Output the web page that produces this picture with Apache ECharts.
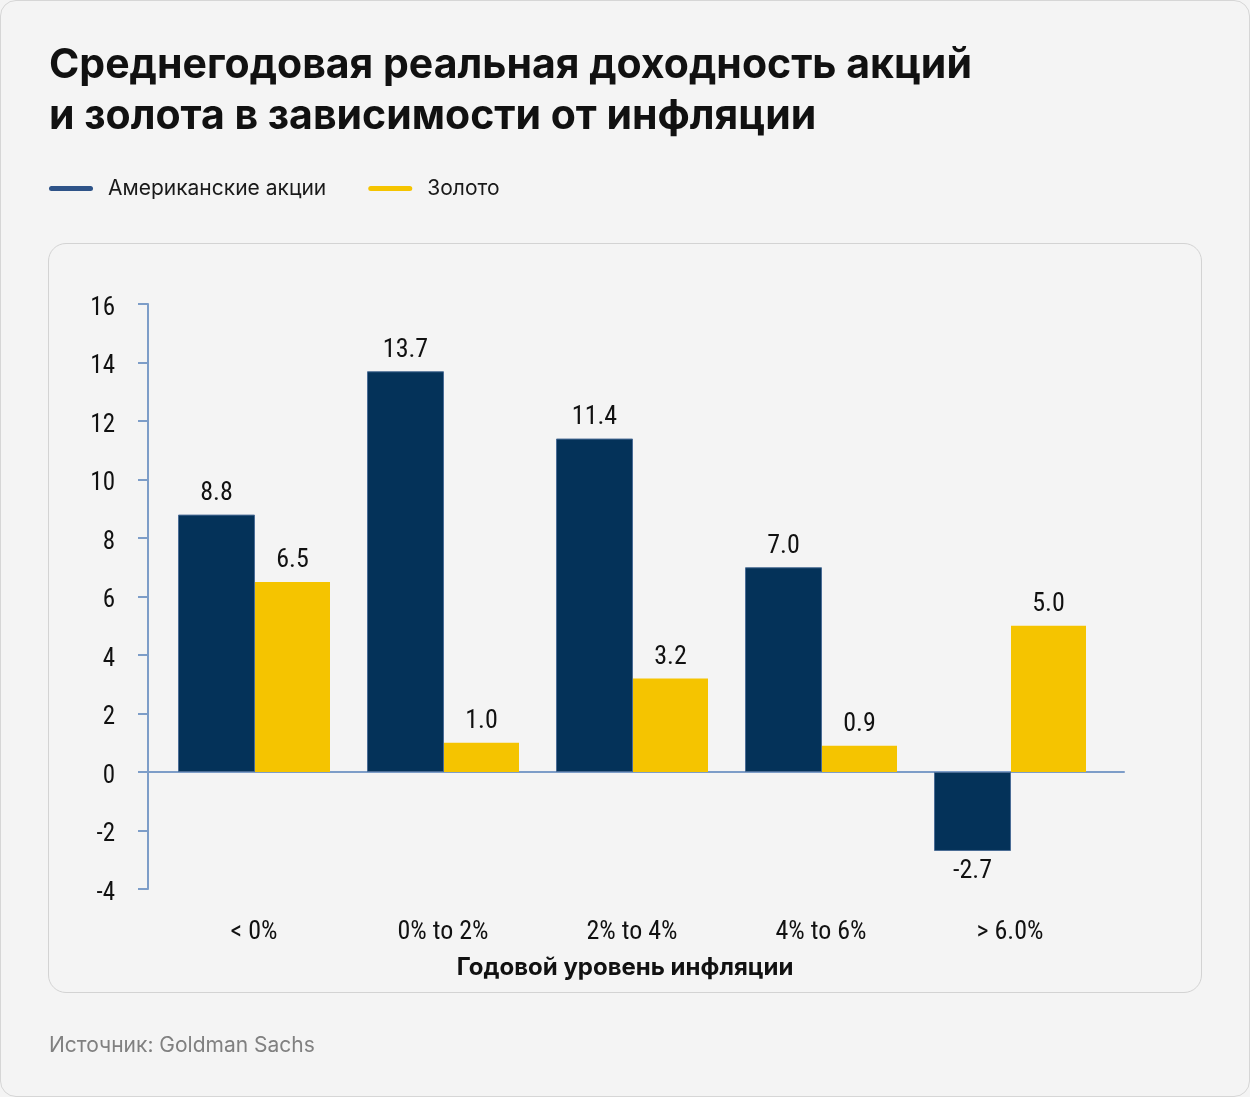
<!DOCTYPE html>
<html><head><meta charset="utf-8">
<script src="https://cdn.jsdelivr.net/npm/echarts@6/dist/echarts.min.js"></script>
<style>
html,body{margin:0;padding:0;background:#f4f4f4;}
#frame{position:absolute;left:0;top:0;width:1248px;height:1095px;border:1px solid #d6d6d6;border-radius:16px;background:#f4f4f4;}
#panel{position:absolute;left:48px;top:243px;width:1152px;height:748px;border:1px solid #d3d3d3;border-radius:18px;}
#chart{position:absolute;left:0;top:0;width:1250px;height:1097px;}
</style></head>
<body>
<div id="frame"></div>
<div id="panel"></div>
<div id="chart"></div>
<script>
var categories = ['< 0%', '0% to 2%', '2% to 4%', '4% to 6%', '> 6.0%'];
var stocks = [8.8, 13.7, 11.4, 7.0, -2.7];
var gold = [6.5, 1.0, 3.2, 0.9, 5.0];
var seriesNames = ['Американские акции', 'Золото'];
var yMin = -4, yMax = 16, yStep = 2;

var narrow = '"Liberation Sans Narrow","Arial Narrow","Roboto Condensed","DejaVu Sans Condensed",sans-serif';
var sans = 'Inter,Roboto,"Noto Sans",sans-serif';
var axisColor = '#7d9dc8';

var chart = echarts.init(document.getElementById('chart'), null, {renderer:'canvas'});
chart.setOption({
  backgroundColor: 'transparent',
  animation: false,
  graphic: [
    {type:'text', x:49, y:66, style:{text:'Среднегодовая реальная доходность акций', font:'bold 41px ' + sans, fill:'#111', textVerticalAlign:'middle'}},
    {type:'text', x:49, y:117, style:{text:'и золота в зависимости от инфляции', font:'bold 41px ' + sans, fill:'#111', textVerticalAlign:'middle'}},
    {type:'text', x:625, y:968, style:{text:'Годовой уровень инфляции', font:'bold 24px ' + sans, fill:'#111', textAlign:'center', textVerticalAlign:'middle'}},
    {type:'text', x:49, y:1046, style:{text:'Источник: Goldman Sachs', font:'21px ' + sans, fill:'#808080', textVerticalAlign:'middle'}}
  ],
  legend: {
    left: 49, top: 178, padding: 0,
    itemWidth: 44, itemHeight: 5, itemGap: 42,
    icon: 'path://M2.5,0H41.5A2.5,2.5,0,0,1,41.5,5H2.5A2.5,2.5,0,0,1,2.5,0Z',
    textStyle: {fontFamily: sans, fontSize: 21, color:'#1a1a1a', padding:[0,0,0,10]},
    data: [
      {name: seriesNames[0], itemStyle:{color:'#2e5388', borderWidth:0}},
      {name: seriesNames[1], itemStyle:{color:'#f5c400', borderWidth:0}}
    ]
  },
  grid: [
    {left:148, top:304, width:976, height:585},
    {left:159.5, top:304, width:945, height:585}
  ],
  xAxis: [
    {type:'value', gridIndex:0, min:0, max:1, axisLine:{show:true, onZero:true, lineStyle:{color:axisColor, width:2}}, axisTick:{show:false}, axisLabel:{show:false}, splitLine:{show:false}},
    {type:'category', gridIndex:1, data:categories, position:'bottom', axisLine:{show:false, onZero:false}, axisTick:{show:false},
     axisLabel:{margin:30, fontFamily:narrow, fontSize:26, color:'#111'}}
  ],
  yAxis: [
    {type:'value', gridIndex:0, min:yMin, max:yMax, interval:yStep,
     axisLine:{show:true, onZero:false, lineStyle:{color:axisColor, width:2}},
     axisTick:{show:true, inside:false, length:10, lineStyle:{color:axisColor, width:2}},
     axisLabel:{margin:33, color:'#111',
       formatter:function(v){return '{a|' + v + '}';},
       rich:{a:{fontFamily:narrow, fontSize:25, color:'#111', padding:[9,0,0,0]}}},
     splitLine:{show:false}},
    {type:'value', gridIndex:1, min:yMin, max:yMax, interval:yStep, show:false, splitLine:{show:false}}
  ],
  series: [
    {name:seriesNames[0], type:'bar', xAxisIndex:1, yAxisIndex:1,
     data: stocks.map(function(v){return v<0?{value:v,label:{position:'bottom'}}:v;}),
     barWidth:77, barGap:'0%', z:1,
     itemStyle:{color:'#043259', borderColor:'#4a6c95', borderWidth:1},
     label:{show:true, position:'top', distance:8, fontFamily:narrow, fontSize:26, color:'#111',
       formatter:function(p){return p.value.toFixed(1);}}},
    {name:seriesNames[1], type:'bar', xAxisIndex:1, yAxisIndex:1, data:gold, barWidth:75, barGap:'0%', z:1,
     itemStyle:{color:'#f5c400'},
     label:{show:true, position:'top', distance:8, fontFamily:narrow, fontSize:26, color:'#111',
       formatter:function(p){return p.value.toFixed(1);}}}
  ]
});
</script>
</body></html>
